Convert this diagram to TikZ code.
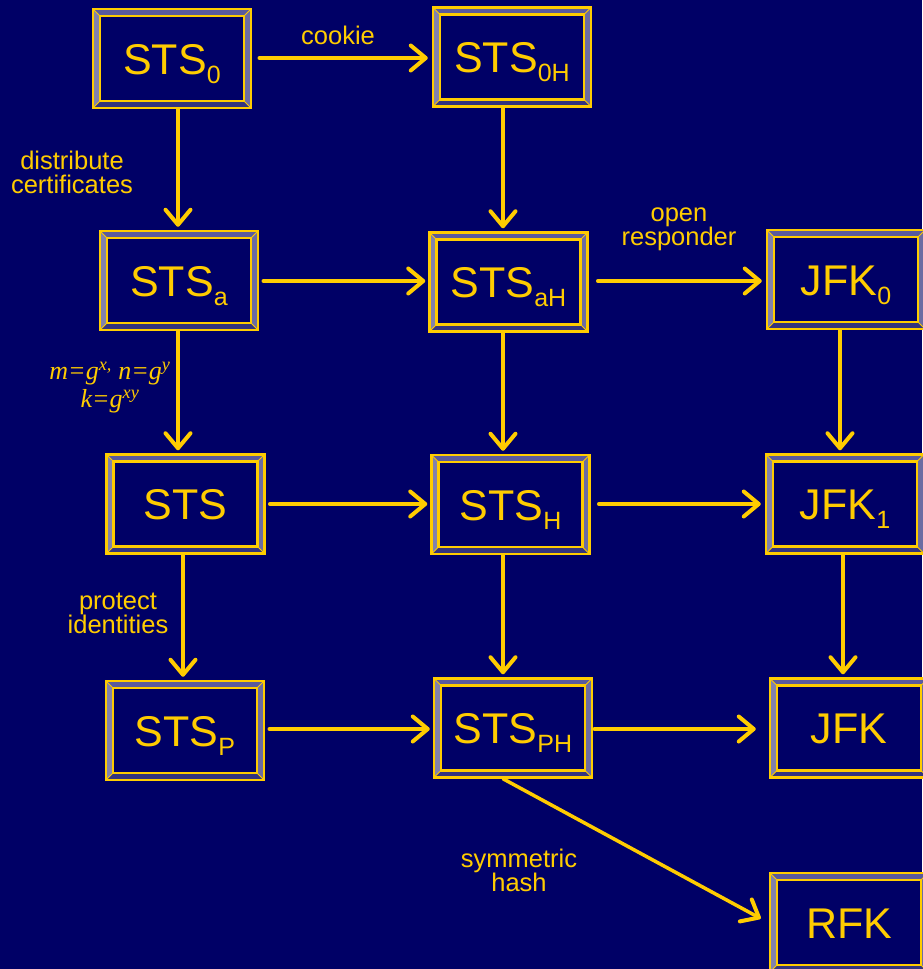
\documentclass[tikz,border=0pt]{standalone}
\usepackage{fontspec}
\setmainfont{Liberation Sans}
\newfontfamily\serifit{Liberation Serif}
\usetikzlibrary{arrows.meta}
\definecolor{navy}{HTML}{000066}
\definecolor{gold}{HTML}{FFCC00}
\definecolor{bvL}{HTML}{8282AC}
\definecolor{bvT}{HTML}{5A5A9E}
\definecolor{bvR}{HTML}{6C6CA2}
\definecolor{bvB}{HTML}{34347E}
\newcommand{\lo}[1]{\raisebox{-9pt}{\fontsize{25}{25}\selectfont #1}}
\tikzset{
  bevelbox/.style={draw=gold, line width=2.5pt, fill=navy,
    minimum width=158pt, minimum height=99pt, inner sep=0pt,
    text=gold, font=\fontsize{43}{43}\selectfont, text height=31pt, text depth=0pt,
    path picture={
      \path (path picture bounding box.south west) coordinate (ppsw)
            (path picture bounding box.north west) coordinate (ppnw)
            (path picture bounding box.north east) coordinate (ppne)
            (path picture bounding box.south east) coordinate (ppse);
      \path ([shift={(7pt,7pt)}]ppsw) coordinate (ipsw)
            ([shift={(7pt,-7pt)}]ppnw) coordinate (ipnw)
            ([shift={(-7pt,-7pt)}]ppne) coordinate (ipne)
            ([shift={(-7pt,7pt)}]ppse) coordinate (ipse);
      \fill[bvL] (ppsw) -- (ppnw) -- (ipnw) -- (ipsw) -- cycle;
      \fill[bvT] (ppnw) -- (ppne) -- (ipne) -- (ipnw) -- cycle;
      \fill[bvR] (ppne) -- (ppse) -- (ipse) -- (ipne) -- cycle;
      \fill[bvB] (ppse) -- (ppsw) -- (ipsw) -- (ipse) -- cycle;
      \draw[gold, line width=1pt] (ppsw) -- (ipsw) (ppnw) -- (ipnw) (ppne) -- (ipne) (ppse) -- (ipse);
      \draw[gold, line width=2.2pt] (ipsw) rectangle (ipne);
    }},
  arr/.style={draw=gold, line width=3.5pt, line cap=round,
    -{Straight Barb[length=15pt,width=25pt,line width=4pt,line cap=round,line join=round]}},
  lbl/.style={text=gold, font=\fontsize{25.5}{24}\selectfont, align=center, inner sep=0pt},
  mathlbl/.style={text=gold, font=\serifit\itshape\fontsize{26}{28}\selectfont, align=center, inner sep=0pt},
}
\begin{document}
\begin{tikzpicture}[x=1pt,y=-1pt]
\fill[navy] (0,0) rectangle (922,969);
\useasboundingbox (0,0) rectangle (922,969);

% rows and columns of the connectors
\coordinate (r1) at (0,58);
\coordinate (r2) at (0,281);
\coordinate (r3) at (0,504);
\coordinate (r4) at (0,729);
\coordinate (cA1) at (178,0);
\coordinate (cA3) at (183,0);
\coordinate (cB) at (503,0);
\coordinate (cC1) at (840,0);
\coordinate (cC2) at (843,0);

% boxes
\node[bevelbox] (s0)    at (172,58.5)  {STS\lo{0}};
\node[bevelbox] (s0h)   at (512,57)    {STS\lo{0H}};
\node[bevelbox] (sa)    at (179,280.5) {STS\lo{a}};
\node[bevelbox] (sah)   at (508.5,282) {STS\lo{aH}};
\node[bevelbox] (jfk0)  at (846,279.5) {JFK\lo{0}};
\node[bevelbox] (sts)   at (185.5,504) {STS};
\node[bevelbox] (stsh)  at (510.5,504.5) {STS\lo{H}};
\node[bevelbox] (jfk1)  at (845,504)   {JFK\lo{1}};
\node[bevelbox] (stsp)  at (185,730.5) {STS\lo{P}};
\node[bevelbox] (stsph) at (513,728)   {STS\lo{PH}};
\node[bevelbox] (jfk)   at (849,728)   {JFK};
\node[bevelbox] (rfk)   at (849,922.5) {RFK};

% labels
\node[lbl] (lcookie) at (338,35) {cookie};
\node[lbl] (ldist) at (72,172) {distribute\\certificates};
\node[lbl] (lopen) at (679,229) {open\\responder};
\node[mathlbl] (lmath) at (110,388) {m=g\textsuperscript{x,} n=g\textsuperscript{y}\\k=g\textsuperscript{xy}};
\node[lbl] (lprot) at (118,613) {protect\\identities};
\node[lbl] (lsym) at (519,870) {symmetric\\hash};

% horizontal connectors
\draw[arr, shorten <=7pt, shorten >=4pt] (s0.east |- r1) -- (s0h.west |- r1);
\draw[arr, shorten <=4pt, shorten >=3pt] (sa.east |- r2) -- (sah.west |- r2);
\draw[arr, shorten <=9pt, shorten >=4pt] (sah.east |- r2) -- (jfk0.west |- r2);
\draw[arr, shorten <=4pt, shorten >=3pt] (sts.east |- r3) -- (stsh.west |- r3);
\draw[arr, shorten <=8pt, shorten >=4pt] (stsh.east |- r3) -- (jfk1.west |- r3);
\draw[arr, shorten <=4pt, shorten >=3pt] (stsp.east |- r4) -- (stsph.west |- r4);
\draw[arr, shorten <=1pt, shorten >=13pt] (stsph.east |- r4) -- (jfk.west |- r4);

% vertical connectors
\draw[arr, shorten >=3pt] (s0.south -| cA1) -- (sa.north -| cA1);
\draw[arr, shorten >=3pt] (sa.south -| cA1) -- (sts.north -| cA1);
\draw[arr, shorten >=3pt] (sts.south -| cA3) -- (stsp.north -| cA3);
\draw[arr, shorten >=3pt] (s0h.south -| cB) -- (sah.north -| cB);
\draw[arr, shorten >=3pt] (sah.south -| cB) -- (stsh.north -| cB);
\draw[arr, shorten >=3pt] (stsh.south -| cB) -- (stsph.north -| cB);
\draw[arr, shorten >=3pt] (jfk0.south -| cC1) -- (jfk1.north -| cC1);
\draw[arr, shorten >=3pt] (jfk1.south -| cC2) -- (jfk.north -| cC2);

% diagonal connector
\draw[arr] (stsph.south -| cB) -- ([shift={(-8pt,4pt)}]rfk.west);
\end{tikzpicture}
\end{document}
